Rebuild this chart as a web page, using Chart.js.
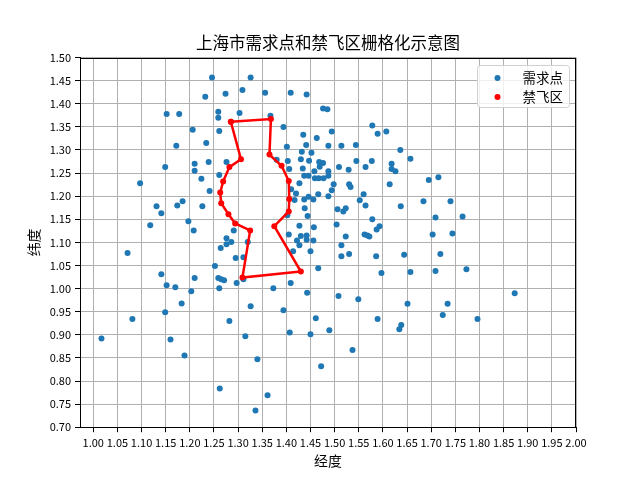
<!DOCTYPE html>
<html>
<head>
<meta charset="utf-8">
<script src="https://cdn.jsdelivr.net/npm/chart.js"></script>
<style>
body { margin:0; background:#ffffff; }
</style>
</head>
<body>
<canvas id="chart" width="640" height="480"></canvas>
<script>
// 需求点 (经度 / 纬度)
var demand_lon = [
  1.246,1.326,1.232,1.274,1.309,1.356,1.409,1.442,1.152,1.178,1.259,1.303,1.259,1.367,1.394,1.206,1.261,1.435,1.463,1.441,
  1.172,1.234,1.401,1.432,1.452,1.430,1.380,1.403,1.447,1.468,1.210,1.239,1.276,1.149,1.210,1.406,1.434,1.458,1.469,1.437,
  1.446,1.459,1.261,1.224,1.097,1.427,1.410,1.420,1.241,1.446,1.456,1.437,1.417,1.466,1.438,1.131,1.174,1.185,1.226,1.141,
  1.444,1.118,1.197,1.208,1.291,1.427,1.457,1.405,1.430,1.442,1.276,
  1.476,1.485,1.578,1.589,1.607,1.494,1.487,1.514,1.544,1.636,1.657,1.476,1.509,1.529,1.545,1.577,1.564,1.618,1.618,1.626,
  1.487,1.467,1.477,1.487,1.695,1.715,1.498,1.494,1.487,1.530,1.533,1.560,1.552,1.564,1.614,1.637,1.684,1.740,1.709,1.765,
  1.506,1.518,1.523,1.578,1.504,1.593,1.587,1.562,1.568,1.572,1.523,1.703,1.744,1.402,
  1.442,1.422,1.427,1.456,1.276,1.286,1.320,1.264,1.414,1.450,1.071,1.295,1.311,1.252,1.466,1.141,1.210,1.259,1.265,1.271,
  1.311,1.409,1.297,1.152,1.170,1.261,1.373,1.203,1.443,1.183,1.326,1.149,1.394,1.081,1.282,1.461,1.017,1.160,1.315,1.407,
  1.450,1.189,1.340,1.262,1.361,1.336,
  1.472,1.489,1.508,1.549,1.537,1.514,1.514,1.530,1.586,1.597,1.589,1.644,1.657,1.651,1.634,1.638,1.719,1.709,1.773,1.734,
  1.724,1.796,1.873
];
var demand_lat = [
  1.457,1.457,1.415,1.422,1.430,1.424,1.424,1.420,1.378,1.378,1.383,1.380,1.370,1.374,1.350,1.344,1.341,1.333,1.326,1.311,
  1.309,1.315,1.307,1.296,1.294,1.280,1.279,1.276,1.277,1.274,1.270,1.274,1.274,1.263,1.255,1.259,1.260,1.254,1.264,1.244,
  1.244,1.239,1.246,1.238,1.228,1.228,1.215,1.206,1.211,1.199,1.193,1.193,1.192,1.204,1.174,1.178,1.180,1.189,1.178,1.163,
  1.157,1.137,1.146,1.126,1.126,1.136,1.133,1.117,1.114,1.115,1.109,
  1.390,1.388,1.353,1.335,1.340,1.340,1.309,1.309,1.311,1.300,1.281,1.272,1.263,1.257,1.276,1.276,1.263,1.270,1.259,1.254,
  1.254,1.239,1.239,1.244,1.235,1.241,1.226,1.213,1.200,1.226,1.220,1.204,1.191,1.180,1.226,1.178,1.189,1.189,1.154,1.156,
  1.172,1.167,1.174,1.150,1.139,1.135,1.128,1.117,1.115,1.113,1.113,1.117,1.119,1.159,
  1.106,1.104,1.094,1.104,1.096,1.101,1.101,1.088,1.081,1.081,1.077,1.066,1.068,1.049,1.044,1.031,1.023,1.023,1.020,1.018,
  1.020,1.012,1.012,1.007,1.003,1.001,1.001,0.994,0.991,0.968,0.962,0.949,0.953,0.934,0.930,0.936,0.892,0.890,0.897,0.905,
  0.901,0.855,0.847,0.784,0.769,0.736,
  0.832,0.910,0.984,0.977,0.867,1.094,1.070,1.075,1.070,1.034,0.934,1.073,1.036,0.967,0.912,0.921,1.075,1.038,1.042,0.967,
  0.943,0.934,0.990
];

// 禁飞区边界顶点 (首尾相连)
var nofly_lon = [1.285,1.368,1.365,1.390,1.405,1.406,1.405,1.375,1.430,1.309,1.325,1.294,1.280,1.265,1.263,1.269,1.282,1.306,1.285];
var nofly_lat = [1.361,1.367,1.290,1.266,1.233,1.194,1.167,1.135,1.037,1.024,1.126,1.141,1.161,1.185,1.208,1.232,1.263,1.280,1.361];

// 刻度
var x_ticks = [1.00,1.05,1.10,1.15,1.20,1.25,1.30,1.35,1.40,1.45,1.50,1.55,1.60,1.65,1.70,1.75,1.80,1.85,1.90,1.95,2.00];
var y_ticks = [0.70,0.75,0.80,0.85,0.90,0.95,1.00,1.05,1.10,1.15,1.20,1.25,1.30,1.35,1.40,1.45,1.50];

var series_labels = ['需求点', '禁飞区'];
var series_colors = ['#1f77b4', '#ff0000'];
var title = '上海市需求点和禁飞区栅格化示意图';
var x_title = '经度';
var y_title = '纬度';

var cjk = "'Noto Sans CJK SC', 'Noto Sans', sans-serif";

// 组合数据
var demand_pts = [];
for (var i = 0; i < demand_lon.length; i++) {
  demand_pts.push({ x: demand_lon[i], y: demand_lat[i] });
}
var nofly_pts = [];
for (var j = 0; j < nofly_lon.length; j++) {
  nofly_pts.push({ x: nofly_lon[j], y: nofly_lat[j] });
}

// 上、右边框
var framePlugin = {
  id: 'frame',
  afterDatasetsDraw: function(chart) {
    var a = chart.chartArea, ctx = chart.ctx;
    ctx.save();
    ctx.strokeStyle = '#000000';
    ctx.lineWidth = 1;
    ctx.strokeRect(Math.round(a.left) + 0.5, Math.round(a.top) + 0.5,
                   Math.round(a.right - a.left) - 1, Math.round(a.bottom - a.top) - 1);
    ctx.restore();
  }
};

// 图例 (画在绘图区右上角)
var legendPlugin = {
  id: 'boxLegend',
  afterDraw: function(chart) {
    var a = chart.chartArea, ctx = chart.ctx;
    var w = 92, h = 42, r = 3;
    var x0 = Math.round(a.right - 7 - w) + 0.5, y0 = Math.round(a.top + 7) + 0.5;
    ctx.save();
    ctx.beginPath();
    ctx.moveTo(x0 + r, y0);
    ctx.lineTo(x0 + w - r, y0);
    ctx.arcTo(x0 + w, y0, x0 + w, y0 + r, r);
    ctx.lineTo(x0 + w, y0 + h - r);
    ctx.arcTo(x0 + w, y0 + h, x0 + w - r, y0 + h, r);
    ctx.lineTo(x0 + r, y0 + h);
    ctx.arcTo(x0, y0 + h, x0, y0 + h - r, r);
    ctx.lineTo(x0, y0 + r);
    ctx.arcTo(x0, y0, x0 + r, y0, r);
    ctx.closePath();
    ctx.fillStyle = 'rgba(255,255,255,0.8)';
    ctx.fill();
    ctx.strokeStyle = '#d0d0d0';
    ctx.lineWidth = 1;
    ctx.stroke();
    ctx.font = '13.5px ' + cjk;
    ctx.textBaseline = 'middle';
    ctx.textAlign = 'left';
    for (var k = 0; k < series_labels.length; k++) {
      var cy = y0 + 12.5 + k * 19;
      ctx.beginPath();
      ctx.arc(x0 + 20, cy, 3, 0, Math.PI * 2);
      ctx.fillStyle = series_colors[k];
      ctx.fill();
      ctx.fillStyle = '#000000';
      ctx.fillText(series_labels[k], x0 + 45, cy);
    }
    ctx.restore();
  }
};

new Chart(document.getElementById('chart'), {
  type: 'scatter',
  data: {
    datasets: [
      {
        label: series_labels[0],
        data: demand_pts,
        backgroundColor: series_colors[0],
        pointRadius: 3,
        pointBorderWidth: 0,
        order: 2
      },
      {
        label: series_labels[1],
        data: nofly_pts,
        showLine: true,
        borderColor: series_colors[1],
        backgroundColor: series_colors[1],
        borderWidth: 2.5,
        pointRadius: 3,
        pointBorderWidth: 0,
        tension: 0,
        fill: false,
        order: 1
      }
    ]
  },
  options: {
    responsive: false,
    devicePixelRatio: 1,
    animation: false,
    // 左 16 + y 轴 64 = 80, 右侧空白由 y2 占位 64, 标题居中于绘图区
    layout: { padding: { left: 16, right: 0, top: 0, bottom: 0 } },
    plugins: {
      legend: { display: false },
      tooltip: { enabled: false },
      title: {
        display: true,
        text: title,
        color: '#000000',
        font: { family: cjk, size: 16.5, weight: 'normal' },
        padding: { top: 33, bottom: 4.8 }
      }
    },
    scales: {
      x: {
        type: 'linear',
        min: 0.9725,
        max: 2.0,
        afterBuildTicks: function(s) { s.ticks = x_ticks.map(function(v) { return { value: v }; }); },
        afterFit: function(s) { s.height = 52.8; },
        ticks: {
          autoSkip: false, maxRotation: 0, minRotation: 0, padding: 4,
          color: '#000000',
          font: { family: cjk, size: 11 },
          callback: function(v) { return Number(v).toFixed(2); }
        },
        grid: { color: '#b0b0b0', lineWidth: 1, tickColor: '#000000', tickLength: 5 },
        border: { color: '#000000', width: 1 },
        title: {
          display: true, text: x_title, color: '#000000',
          font: { family: cjk, size: 13.9 },
          padding: { top: 0, bottom: 11 }
        }
      },
      y: {
        type: 'linear',
        position: 'left',
        min: 0.7,
        max: 1.5,
        afterBuildTicks: function(s) { s.ticks = y_ticks.map(function(v) { return { value: v }; }); },
        afterFit: function(s) { s.width = 64; },
        ticks: {
          autoSkip: false, padding: 4,
          color: '#000000',
          font: { family: cjk, size: 11 },
          callback: function(v) { return Number(v).toFixed(2); }
        },
        grid: { color: '#b0b0b0', lineWidth: 1, tickColor: '#000000', tickLength: 5 },
        border: { color: '#000000', width: 1 },
        title: {
          display: true, text: y_title, color: '#000000',
          font: { family: cjk, size: 13.9 },
          padding: { top: 9, bottom: 0 }
        }
      },
      y2: {
        type: 'linear',
        position: 'right',
        min: 0.7,
        max: 1.5,
        afterFit: function(s) { s.width = 64; },
        ticks: { display: false },
        grid: { display: false },
        border: { display: false }
      }
    }
  },
  plugins: [framePlugin, legendPlugin]
});
</script>
</body>
</html>
